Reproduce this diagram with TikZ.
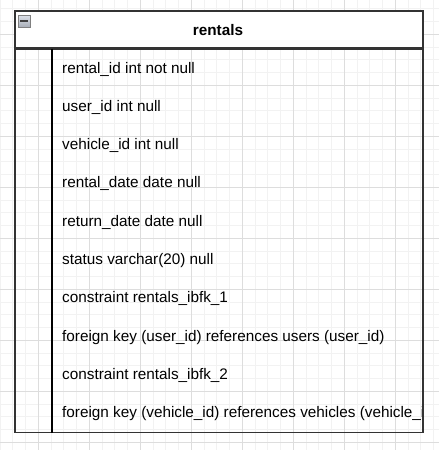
\documentclass[tikz,border=0pt]{standalone}
\usepackage{fontspec}
\setmainfont{Liberation Sans}
\usepackage{xcolor}
\usepackage{tikz}
\usetikzlibrary{calc}
\definecolor{ink}{HTML}{000000}
\definecolor{edge}{HTML}{333333}
\definecolor{minor}{HTML}{F2F2F2}
\definecolor{major}{HTML}{DDDDDD}
\definecolor{btntop}{HTML}{DCE0E8}
\definecolor{btnbot}{HTML}{A8AEB8}
\tikzset{
  fine/.style={draw=minor, line width=1pt},
  coarse/.style={draw=major, line width=1pt},
  box/.style={draw=edge, line width=1.5pt, inner sep=0pt, anchor=north west},
  div/.style={draw=ink, line width=1.3pt},
  btn/.style={draw=gray, line width=0.8pt, top color=btntop, bottom color=btnbot, minimum size=12pt, inner sep=0pt},
  lab/.style={text=ink, inner sep=0pt, anchor=base west, font=\fontsize{15.3}{18}\selectfont},
  labb/.style={text=ink, inner sep=0pt, anchor=base, font=\fontsize{15.3}{18}\selectfont\bfseries},
}

\begin{document}
\begin{tikzpicture}[x=1pt, y=-1pt]
  \useasboundingbox[fill=white] (0,0) rectangle (439,450);
  % background grid
  \foreach \k in {0,...,34} {
    \draw[fine] ({0.05+12.75*\k},0) -- ({0.05+12.75*\k},450);
    \draw[fine] (0,{8.8+12.75*\k}) -- (439,{8.8+12.75*\k});
  }
  \foreach \k in {0,...,7}
    \draw[coarse] ({38.3+51*\k},0) -- ({38.3+51*\k},450);
  \foreach \k in {0,...,8}
    \draw[coarse] (0,{34.3+51*\k}) -- (439,{34.3+51*\k});
  % table
  \node[box, fill=white, minimum width=408pt, minimum height=37pt] (H) at (14,10) {};
  \node[box, minimum width=408pt, minimum height=383pt] (T) at (H.south west) {};
  \coordinate (D1) at ($(T.north west)+(38,0)$);
  \coordinate (D2) at ($(T.south west)+(38,0)$);
  \draw[div] (D1) -- (D2);
  \node[btn] (F) at (24,21) {};
  \draw[draw=black!75, line width=2pt] ($(F.west)+(2.5,0)$) -- ($(F.east)-(2.5,0)$);
  \node[labb] (N) at (218,35) {rentals};
  \begin{scope}
    \clip (T.north west) rectangle ($(T.south east)-(2.2,0)$);
    \foreach \txt [count=\i from 0] in {
      rental\_id int not null,
      user\_id int null,
      vehicle\_id int null,
      rental\_date date null,
      return\_date date null,
      status varchar(20) null,
      constraint rentals\_ibfk\_1,
      foreign key (user\_id) references users (user\_id),
      constraint rentals\_ibfk\_2,
      foreign key (vehicle\_id) references vehicles (vehicle\_id)}
      \node[lab] (R\i) at (62,{73+38.3*\i}) {\txt};
  \end{scope}
\end{tikzpicture}
\end{document}
